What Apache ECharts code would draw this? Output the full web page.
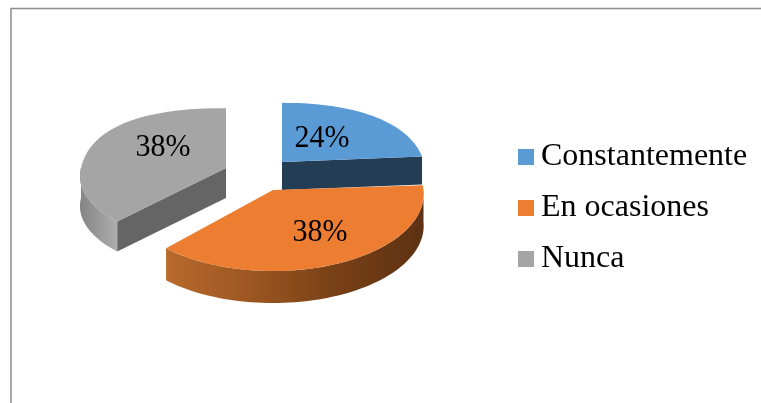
<!DOCTYPE html>
<html>
<head>
<meta charset="utf-8">
<style>
  html, body { margin: 0; padding: 0; background: #fff; }
  #chart { width: 761px; height: 403px; }
</style>
<script src="https://cdn.jsdelivr.net/npm/echarts@6/dist/echarts.min.js"></script>
</head>
<body>
<div id="chart"></div>
<script>
const categories = ['Constantemente', 'En ocasiones', 'Nunca']
const values = [24, 38, 38]

const FONT = '"Liberation Serif", "Times New Roman", serif'
const STEP = 2 // degrees per outline segment

// one entry per slice: where its apex lands after the explode, and its 3D look
// p rounds out the back half of the outline a little
const slices = [
  { cx: 282, cy: 162, R: 142, S: 68, k: 0.15, p: 0.9, depth: 28, label: [322, 138],
    top: '#5b9bd5', wall: '#233d54', side: null },
  { cx: 273, cy: 190, R: 150.5, S: 77, k: 0.05, p: 1, depth: 32, label: [320, 232],
    top: '#ed7d31', wall: '#8a4a1b',
    side: ['#b96a2c', '#9c5621', '#774016', '#5d3113'] },
  { cx: 226, cy: 168, R: 145, S: 67, k: 0.12, p: 0.85, depth: 30, label: [163, 147],
    top: '#a5a5a5', wall: '#656565', side: ['#858585', '#adadad'] }
]

// draw back slices first so the orange one overlaps them
const drawOrder = [2, 0, 1]

// angle is clockwise from 12 o'clock, the foreshortening follows the tilt
const project = (s, deg) => {
  const a = deg * Math.PI / 180
  let u = Math.sin(a)
  let v = Math.cos(a)
  if (v > 0) {
    u = Math.sign(u) * Math.pow(Math.abs(u), s.p)
    v = Math.pow(v, s.p)
  }
  const w = 1 + s.k * v
  return [s.cx + s.R * u / w, s.cy - s.S * v / w]
}

const arcPoints = (s, from, to) => {
  const pts = []
  for (let d = from; d < to; d += STEP) pts.push(project(s, d))
  pts.push(project(s, to))
  return pts
}

const down = (pts, depth) => pts.map(p => [p[0], p[1] + depth]).reverse()

const sliceRange = (idx) => {
  const total = values.reduce((a, b) => a + b, 0)
  let start = 0
  for (let i = 0; i < idx; i++) start += values[i] / total * 360
  return [start, start + values[idx] / total * 360]
}

const renderSlice = (idx) => (params, api) => {
  const s = slices[idx]
  const [from, to] = sliceRange(idx)
  const arc = arcPoints(s, from, to)
  const apex = [s.cx, s.cy]
  const children = []

  // outer rim, only where it faces the viewer
  if (s.side) {
    const rimFrom = Math.max(from, 90)
    const rimTo = Math.min(to, 270)
    const rim = arcPoints(s, rimFrom, rimTo)
    const stops = s.side.map((c, i) => ({ offset: i / (s.side.length - 1), color: c }))
    children.push({
      type: 'polygon',
      shape: { points: rim.concat(down(rim, s.depth)) },
      style: { fill: new echarts.graphic.LinearGradient(0, 0, 1, 0, stops) }
    })
  }

  // cut wall facing the viewer: blue uses its end edge, gray its start edge
  const wallEdge = idx === 0 ? [apex, arc[arc.length - 1]] : idx === 2 ? [apex, arc[0]] : null
  if (wallEdge) {
    children.push({
      type: 'polygon',
      shape: { points: wallEdge.concat(down(wallEdge, s.depth)) },
      style: { fill: s.wall }
    })
  }

  children.push({
    type: 'polygon',
    shape: { points: [apex].concat(arc) },
    style: { fill: s.top }
  })

  children.push({
    type: 'text',
    x: s.label[0],
    y: s.label[1],
    scaleY: 1.08,
    style: {
      text: api.value(0) + '%',
      font: '30px ' + FONT,
      fill: '#000',
      align: 'center',
      verticalAlign: 'middle'
    }
  })

  return { type: 'group', children }
}

const chart = echarts.init(document.getElementById('chart'), null, { renderer: 'canvas' })

chart.setOption({
  animation: false,
  backgroundColor: '#fff',
  graphic: [
    {
      type: 'polyline',
      silent: true,
      shape: { points: [[11, 403], [11, 8.5], [761, 8.5]] },
      style: { stroke: '#8c8c8c', lineWidth: 1.5, fill: null }
    }
  ],
  legend: {
    orient: 'vertical',
    left: 513,
    top: 132,
    data: categories,
    icon: 'rect',
    itemWidth: 16,
    itemHeight: 16,
    itemGap: 11,
    textStyle: {
      fontFamily: FONT,
      fontSize: 32,
      lineHeight: 32,
      color: '#000',
      padding: [8, 0, 0, 2]
    }
  },
  series: drawOrder.map(idx => ({
    type: 'custom',
    name: categories[idx],
    coordinateSystem: 'none',
    itemStyle: { color: slices[idx].top },
    data: [[values[idx]]],
    renderItem: renderSlice(idx)
  }))
})
</script>
</body>
</html>
